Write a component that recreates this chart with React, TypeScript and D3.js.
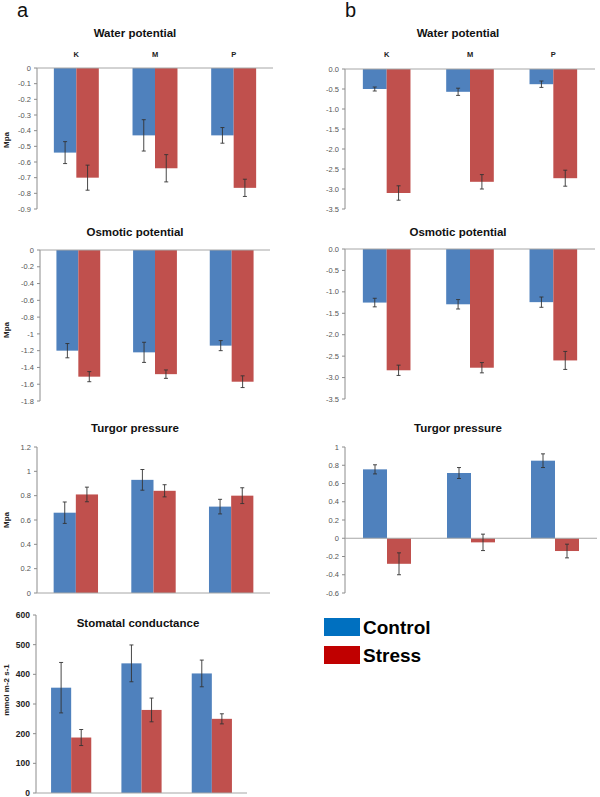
import React from 'react';
import * as d3 from 'd3';

// group labels and series
const groups = ['K', 'M', 'P'];
const seriesNames = ['Control', 'Stress'];
const barColors = ['#4F81BD', '#C0504D'];
const legendColors = ['#0070C0', '#C00000'];

// values (mean, error)
const waterA = [[-0.54, -0.7], [-0.43, -0.64], [-0.43, -0.765]];
const waterAErr = [[0.07, 0.08], [0.1, 0.087], [0.05, 0.055]];
const waterB = [[-0.5, -3.1], [-0.57, -2.82], [-0.38, -2.73]];
const waterBErr = [[0.05, 0.18], [0.09, 0.18], [0.08, 0.2]];

const osmoticA = [[-1.2, -1.51], [-1.22, -1.48], [-1.14, -1.57]];
const osmoticAErr = [[0.085, 0.06], [0.12, 0.05], [0.06, 0.07]];
const osmoticB = [[-1.25, -2.83], [-1.29, -2.77], [-1.24, -2.6]];
const osmoticBErr = [[0.1, 0.12], [0.11, 0.12], [0.12, 0.21]];

const turgorA = [[0.66, 0.81], [0.93, 0.84], [0.71, 0.8]];
const turgorAErr = [[0.088, 0.06], [0.085, 0.05], [0.06, 0.065]];
const turgorB = [[0.755, -0.28], [0.715, -0.045], [0.85, -0.14]];
const turgorBErr = [[0.05, 0.12], [0.06, 0.09], [0.075, 0.075]];

const stomatal = [[355, 187], [437, 280], [403, 250]];
const stomatalErr = [[85, 27], [62, 40], [45, 17]];

const font = '"Liberation Sans", Arial, sans-serif';

type PanelProps = {
  values: number[][];
  errors: number[][];
  x0: number;
  x1: number;
  yTop: number;
  yBot: number;
  domain: [number, number];
  step: number;
  fmt: (d: number) => string;
  title: string;
  titleX: number;
  titleY: number;
  catY?: number;
  yLabel?: string;
  yLabelY?: number;
  boldTicks?: boolean;
};

const Panel = (p: PanelProps) => {
  const y = d3.scaleLinear().domain(p.domain).range([p.yBot, p.yTop]);
  const x = d3.scaleBand().domain(groups).range([p.x0, p.x1]);
  const inner = d3.scaleBand()
    .domain(seriesNames)
    .range([0, x.bandwidth()])
    .paddingInner(0)
    .paddingOuter(0.75);

  const n = Math.round((p.domain[1] - p.domain[0]) / p.step);
  const ticks = d3.range(n + 1).map(i => +(p.domain[0] + i * p.step).toFixed(4));

  return (
    <g>
      <text x={p.titleX} y={p.titleY} textAnchor="middle" fontFamily={font}
        fontWeight="bold" fontSize={11.5} fill="#111">{p.title}</text>

      {p.catY !== undefined && groups.map(g => (
        <text key={g} x={x(g)! + x.bandwidth() / 2} y={p.catY} textAnchor="middle"
          fontFamily={font} fontWeight="bold" fontSize={7.5} fill="#222">{g}</text>
      ))}

      {p.yLabel && (
        <text transform={`translate(9,${p.yLabelY}) rotate(-90)`} textAnchor="middle"
          fontFamily={font} fontWeight="bold" fontSize={8} fill="#222">{p.yLabel}</text>
      )}

      {/* bars */}
      {groups.map((g, gi) => seriesNames.map((s, si) => {
        const v = p.values[gi][si];
        const bx = x(g)! + inner(s)!;
        return (
          <rect key={g + s} x={bx} width={inner.bandwidth()}
            y={Math.min(y(v), y(0))} height={Math.abs(y(v) - y(0))}
            fill={barColors[si]} />
        );
      }))}

      {/* y axis */}
      <line x1={p.x0} x2={p.x0} y1={p.yTop} y2={p.yBot} stroke="#8c8c8c" strokeWidth={1} />
      {ticks.map(t => (
        <g key={t}>
          <line x1={p.x0 - 3} x2={p.x0} y1={y(t)} y2={y(t)} stroke="#8c8c8c" />
          <text x={p.x0 - 6} y={y(t)} dy="0.35em" textAnchor="end" fontFamily={font}
            fontSize={p.boldTicks ? 8.5 : 7.5} fontWeight={p.boldTicks ? 'bold' : 'normal'}
            fill={p.boldTicks ? '#222' : '#555'}>{p.fmt(t)}</text>
        </g>
      ))}
      {/* zero line */}
      <line x1={p.x0} x2={p.x1} y1={y(0)} y2={y(0)} stroke="#a6a6a6" strokeWidth={1} />

      {/* error bars */}
      {groups.map((g, gi) => seriesNames.map((s, si) => {
        const v = p.values[gi][si];
        const e = p.errors[gi][si];
        const cx = x(g)! + inner(s)! + inner.bandwidth() / 2;
        return (
          <g key={'e' + g + s} stroke="#333" strokeWidth={0.9}>
            <line x1={cx} x2={cx} y1={y(v - e)} y2={y(v + e)} />
            <line x1={cx - 2} x2={cx + 2} y1={y(v - e)} y2={y(v - e)} />
            <line x1={cx - 2} x2={cx + 2} y1={y(v + e)} y2={y(v + e)} />
          </g>
        );
      }))}
    </g>
  );
};

const fmtShort = (d: number) => String(+d.toFixed(1));
const fmtFixed = (d: number) => d.toFixed(1);

export default function App() {
  return (
    <svg width={600} height={797} style={{ display: 'block', position: 'absolute', left: 0, top: 0 }}>
      <rect width={600} height={797} fill="#fff" />
      <text x={17} y={17} fontFamily={font} fontSize={20} fill="#111">a</text>
      <text x={345} y={17} fontFamily={font} fontSize={20} fill="#111">b</text>

      <Panel values={waterA} errors={waterAErr} x0={37} x1={273} yTop={68} yBot={209}
        domain={[-0.9, 0]} step={0.1} fmt={fmtShort} title="Water potential"
        titleX={135} titleY={37} catY={57} yLabel="Mpa" yLabelY={140} />
      <Panel values={waterB} errors={waterBErr} x0={345} x1={595} yTop={69} yBot={209}
        domain={[-3.5, 0]} step={0.5} fmt={fmtFixed} title="Water potential"
        titleX={458} titleY={37} catY={57} />

      <Panel values={osmoticA} errors={osmoticAErr} x0={40} x1={270} yTop={250} yBot={401}
        domain={[-1.8, 0]} step={0.2} fmt={fmtShort} title="Osmotic potential"
        titleX={135} titleY={236} yLabel="Mpa" yLabelY={330} />
      <Panel values={osmoticB} errors={osmoticBErr} x0={345} x1={595} yTop={249} yBot={399}
        domain={[-3.5, 0]} step={0.5} fmt={fmtFixed} title="Osmotic potential"
        titleX={458} titleY={236} />

      <Panel values={turgorA} errors={turgorAErr} x0={37} x1={270} yTop={447} yBot={593}
        domain={[0, 1.2]} step={0.2} fmt={fmtShort} title="Turgor pressure"
        titleX={135} titleY={432} yLabel="Mpa" yLabelY={520} />
      <Panel values={turgorB} errors={turgorBErr} x0={345} x1={597} yTop={447} yBot={593}
        domain={[-0.6, 1]} step={0.2} fmt={fmtShort} title="Turgor pressure"
        titleX={458} titleY={432} />

      <Panel values={stomatal} errors={stomatalErr} x0={36} x1={247} yTop={615} yBot={793}
        domain={[0, 600]} step={100} fmt={d => String(d)} title="Stomatal conductance"
        titleX={138} titleY={627} yLabel="mmol m-2 s-1" yLabelY={690} boldTicks />

      {/* legend */}
      {seriesNames.map((s, i) => (
        <g key={s}>
          <rect x={324} y={618 + i * 28} width={36} height={18} fill={legendColors[i]} />
          <text x={363} y={634 + i * 28} fontFamily={font} fontWeight="bold" fontSize={19}
            fill="#000">{s}</text>
        </g>
      ))}
    </svg>
  );
}
